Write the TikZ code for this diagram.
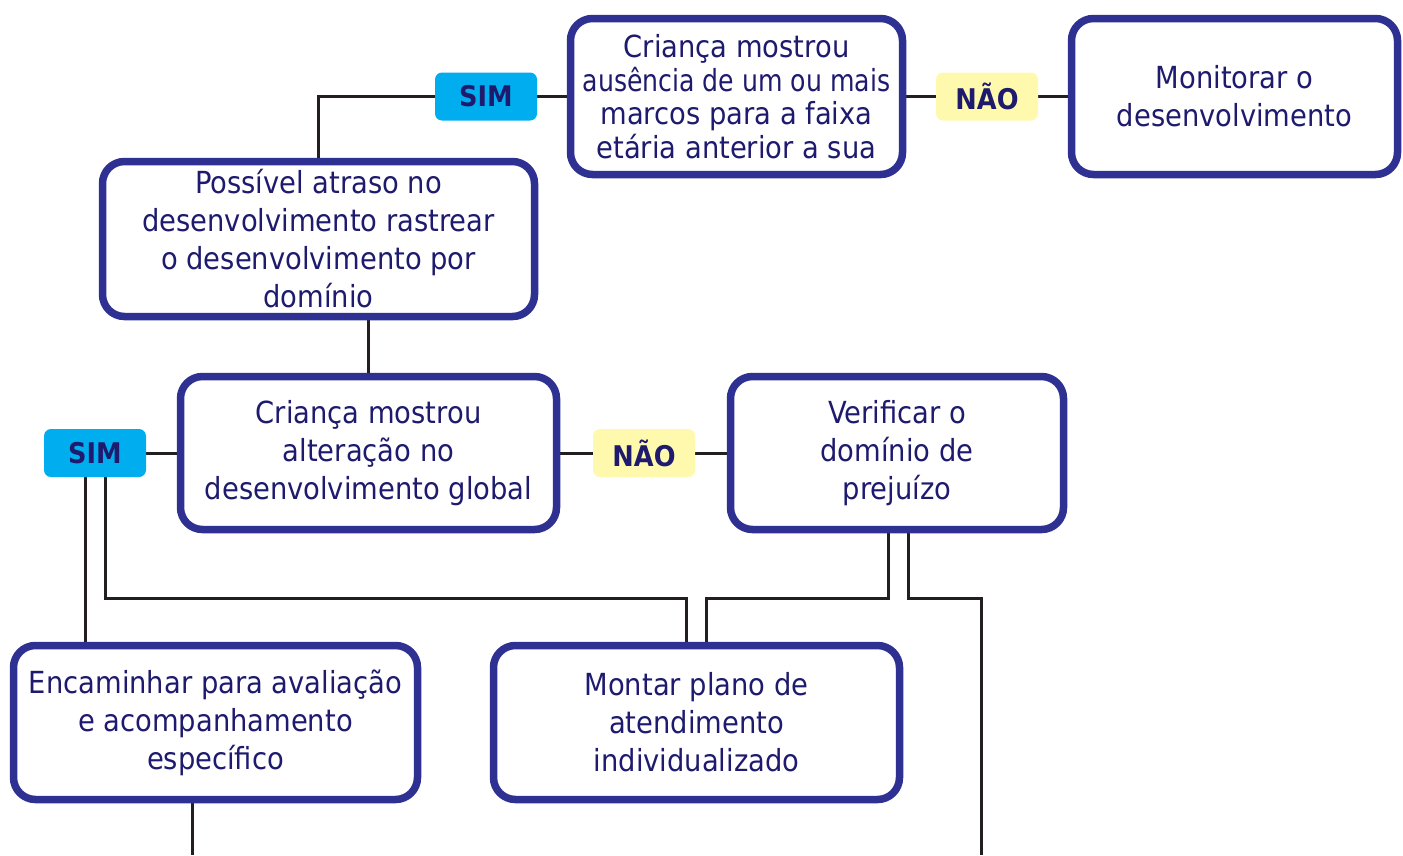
\documentclass[tikz,border=0pt]{standalone}
\usepackage{fontspec}
\setmainfont{DejaVu Sans}[FakeStretch=0.9]
\usetikzlibrary{backgrounds,calc}
\definecolor{bordblue}{HTML}{2E3192}
\definecolor{txtblue}{HTML}{1E1B6E}
\definecolor{simfill}{HTML}{00AEEF}
\definecolor{naofill}{HTML}{FFF9AE}
\definecolor{linec}{HTML}{231F20}
\begin{document}
\begin{tikzpicture}[x=1pt,y=-1pt,
  box/.style={draw=bordblue, line width=7.5pt, rounded corners=22pt, fill=white, text=txtblue, align=center, inner sep=0pt, font=\fontsize{30.4}{38}\selectfont},
  tag/.style={rounded corners=7pt, inner sep=0pt, minimum width=102pt, minimum height=48pt, text=txtblue, font=\bfseries\fontsize{28.5}{34}\selectfont},
  sim/.style={tag, fill=simfill},
  nao/.style={tag, fill=naofill},
  conn/.style={draw=linec, line width=3pt}]
\useasboundingbox (0,0) rectangle (1403,855);

\node[box, minimum width=332pt, minimum height=156pt, font=\fontsize{30.4}{33.5}\selectfont] (b1) at (736.5,96.5)
  {Criança mostrou\\\scalebox{0.92}[1]{ausência de um ou mais}\\marcos para a faixa\\etária anterior a sua};
\node[box, minimum width=326pt, minimum height=156pt] (b2) at (1234.5,96.5) {Monitorar o\\desenvolvimento};
\node[box, minimum width=432pt, minimum height=155pt] (b3) at (318.5,239) {Possível atraso no\\desenvolvimento rastrear\\o desenvolvimento por\\domínio};
\node[box, minimum width=376pt, minimum height=153pt] (b4) at (368.5,453) {Criança mostrou\\alteração no\\desenvolvimento global};
\node[box, minimum width=333pt, minimum height=153pt] (b5) at (897,453) {Verificar o\\domínio de\\prejuízo};
\node[box, minimum width=404pt, minimum height=154pt] (b6) at (215.5,722.5) {Encaminhar para avaliação\\e acompanhamento\\específico};
\node[box, minimum width=406pt, minimum height=154pt] (b7) at (696.5,722.5) {Montar plano de\\atendimento\\individualizado};

\node[sim] (sim1) at (486,96.5) {SIM};
\node[nao] (nao1) at (987,96.5) {NÃO};
\node[sim] (sim2) at (95,453) {SIM};
\node[nao] (nao2) at (644,453) {NÃO};

\coordinate (endA) at (192,855);
\coordinate (endB) at (981,855);
\coordinate (s2a) at ($(sim2.south)+(-10,0)$);
\coordinate (s2b) at ($(sim2.south)+(10,0)$);
\coordinate (b7a) at ($(b7.north)+(-10.5,0)$);
\coordinate (b7b) at ($(b7.north)+(9.5,0)$);
\coordinate (b5a) at ($(b5.south)+(-9,0)$);
\coordinate (b5b) at ($(b5.south)+(11,0)$);

\begin{scope}[on background layer]
\draw[conn] (b3.north) |- (sim1.west);
\draw[conn] (sim1.east) -- (b1.west);
\draw[conn] (b1.east) -- (nao1.west);
\draw[conn] (nao1.east) -- (b2.west);
\draw[conn] (b4.north) -- (b4.north |- b3.south);
\draw[conn] (b4.west) -- (sim2.east);
\draw[conn] (b4.east) -- (nao2.west);
\draw[conn] (nao2.east) -- (b5.west);
\draw[conn] (s2a) -- (s2a |- b6.north);
\draw[conn] (s2b) |- (b7a |- 0,598) -- (b7a);
\draw[conn] (b5a) |- (b7b |- 0,598) -- (b7b);
\draw[conn] (b5b) |- (endB |- 0,598) -- (endB);
\draw[conn] (endA |- b6.south) -- (endA);
\end{scope}
\end{tikzpicture}
\end{document}
